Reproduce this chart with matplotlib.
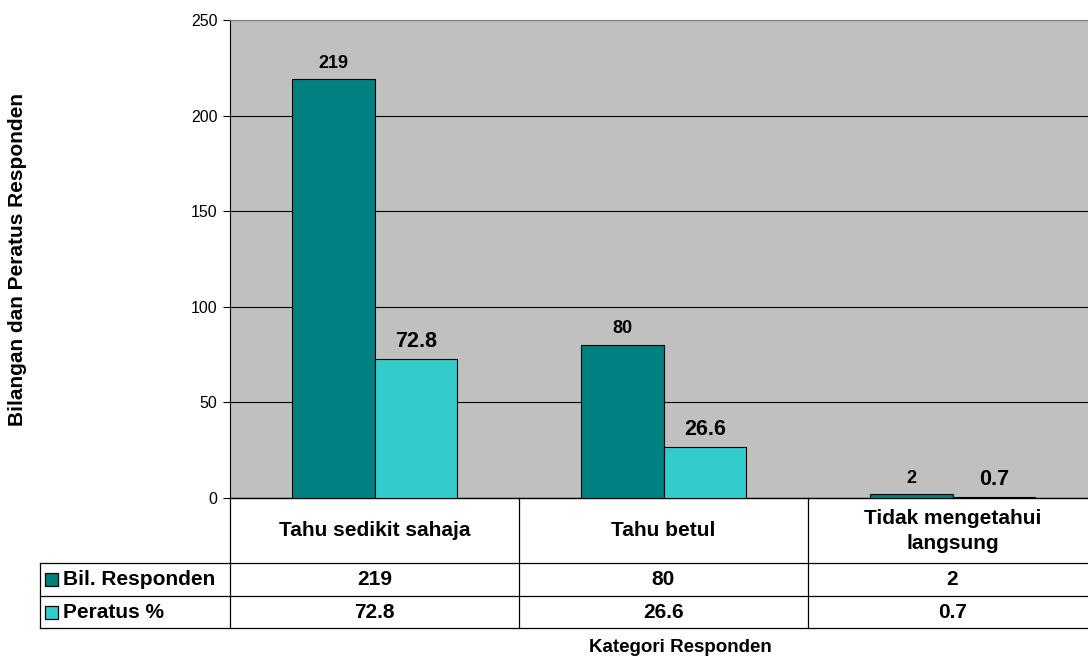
import matplotlib
matplotlib.use("Agg")
import matplotlib.pyplot as plt
import numpy as np
from matplotlib.patches import Rectangle

categories = ["Tahu sedikit sahaja", "Tahu betul", "Tidak mengetahui\nlangsung"]
series_names = ["Bil. Responden", "Peratus %"]
bil = [219, 80, 2]
peratus = [72.8, 26.6, 0.7]
bil_labels = ["219", "80", "2"]
peratus_labels = ["72.8", "26.6", "0.7"]
yticks = [0, 50, 100, 150, 200, 250]

plt.rcParams['font.family'] = ['Liberation Sans', 'DejaVu Sans']

fig = plt.figure(figsize=(10.88, 6.59), dpi=100)
AXL, AXR = 230, 1097
AW = float(AXR - AXL)
L, R, B, T = AXL/1088, AXR/1088, (659-498)/659, (659-20)/659
ax = fig.add_axes([L, B, R-L, T-B])
ax.set_facecolor("#C0C0C0")

x = np.arange(len(categories))
w = 0.287
c1, c2 = "#008080", "#33CCCC"
b1 = ax.bar(x - w/2, bil, w, color=c1, edgecolor="black", linewidth=0.8, zorder=3)
b2 = ax.bar(x + w/2, peratus, w, color=c2, edgecolor="black", linewidth=0.8, zorder=3)
for rect, lab in zip(b1, bil_labels):
    ax.annotate(lab, (rect.get_x()+rect.get_width()/2, rect.get_height()), xytext=(0, 5.5),
                textcoords="offset points", ha="center", va="bottom", fontsize=13, fontweight="bold")
for rect, lab in zip(b2, peratus_labels):
    ax.annotate(lab, (rect.get_x()+rect.get_width()/2, rect.get_height()), xytext=(0, 5),
                textcoords="offset points", ha="center", va="bottom", fontsize=15.5, fontweight="bold")

ax.set_xlim(-0.5, len(categories)-0.5)
ax.set_ylim(0, 250)
ax.set_yticks(yticks)
ax.set_yticklabels([str(t) for t in yticks], fontsize=11.5)
ax.yaxis.grid(True, color="black", linewidth=0.8, zorder=1)
ax.set_axisbelow(True)
ax.set_xticks([])
ax.tick_params(axis="y", length=5, width=0.8, pad=4)
for s in ["top", "right"]:
    ax.spines[s].set_color("#808080")
    ax.spines[s].set_linewidth(0.8)
ax.spines["left"].set_linewidth(0.8)
ax.spines["bottom"].set_linewidth(1.0)

ax.set_ylabel("Bilangan dan Peratus Responden", fontsize=15, fontweight="bold", labelpad=0)
ax.yaxis.set_label_coords((27-AXL)/AW, 0.5)

# data table below axes (axes fraction coords)
H = 478.0
def yf(py):
    return (498 - py) / H
def xf(px):
    return (px - AXL) / AW
tr = ax.transAxes
y_hdr, y_r1, y_r2 = yf(563), yf(596), yf(628)
x_left = xf(40)
lkw = dict(transform=tr, color="black", linewidth=0.9, clip_on=False)
ncat = len(categories)
for i in range(ncat+1):
    xx = i / ncat
    ax.plot([xx, xx], [0, y_r2], **lkw)
ax.plot([x_left, x_left], [y_hdr, y_r2], **lkw)
for yy in [y_hdr, y_r1, y_r2]:
    ax.plot([x_left, 1], [yy, yy], **lkw)

for i, cat in enumerate(categories):
    ax.text((i+0.5)/ncat, yf(531), cat, transform=tr, ha="center", va="center",
            fontsize=15, fontweight="bold", linespacing=1.35)
rows = [(series_names[0], c1, bil_labels, (y_hdr+y_r1)/2),
        (series_names[1], c2, peratus_labels, (y_r1+y_r2)/2)]
for name, col, labs, yc in rows:
    sq = 13/478.0
    ax.add_patch(Rectangle((xf(45), yc - sq/2), 13/AW, sq, transform=tr, facecolor=col,
                           edgecolor="black", linewidth=0.9, clip_on=False))
    ax.text(xf(63), yc, name, transform=tr, ha="left", va="center", fontsize=15, fontweight="bold")
    for i, lab in enumerate(labs):
        ax.text((i+0.5)/ncat, yc, lab, transform=tr, ha="center", va="center",
                fontsize=15, fontweight="bold")

ax.text(xf(680), yf(648), "Kategori Responden", transform=tr, ha="center", va="center",
        fontsize=13.5, fontweight="bold")

fig.savefig("out.png", dpi=100)
